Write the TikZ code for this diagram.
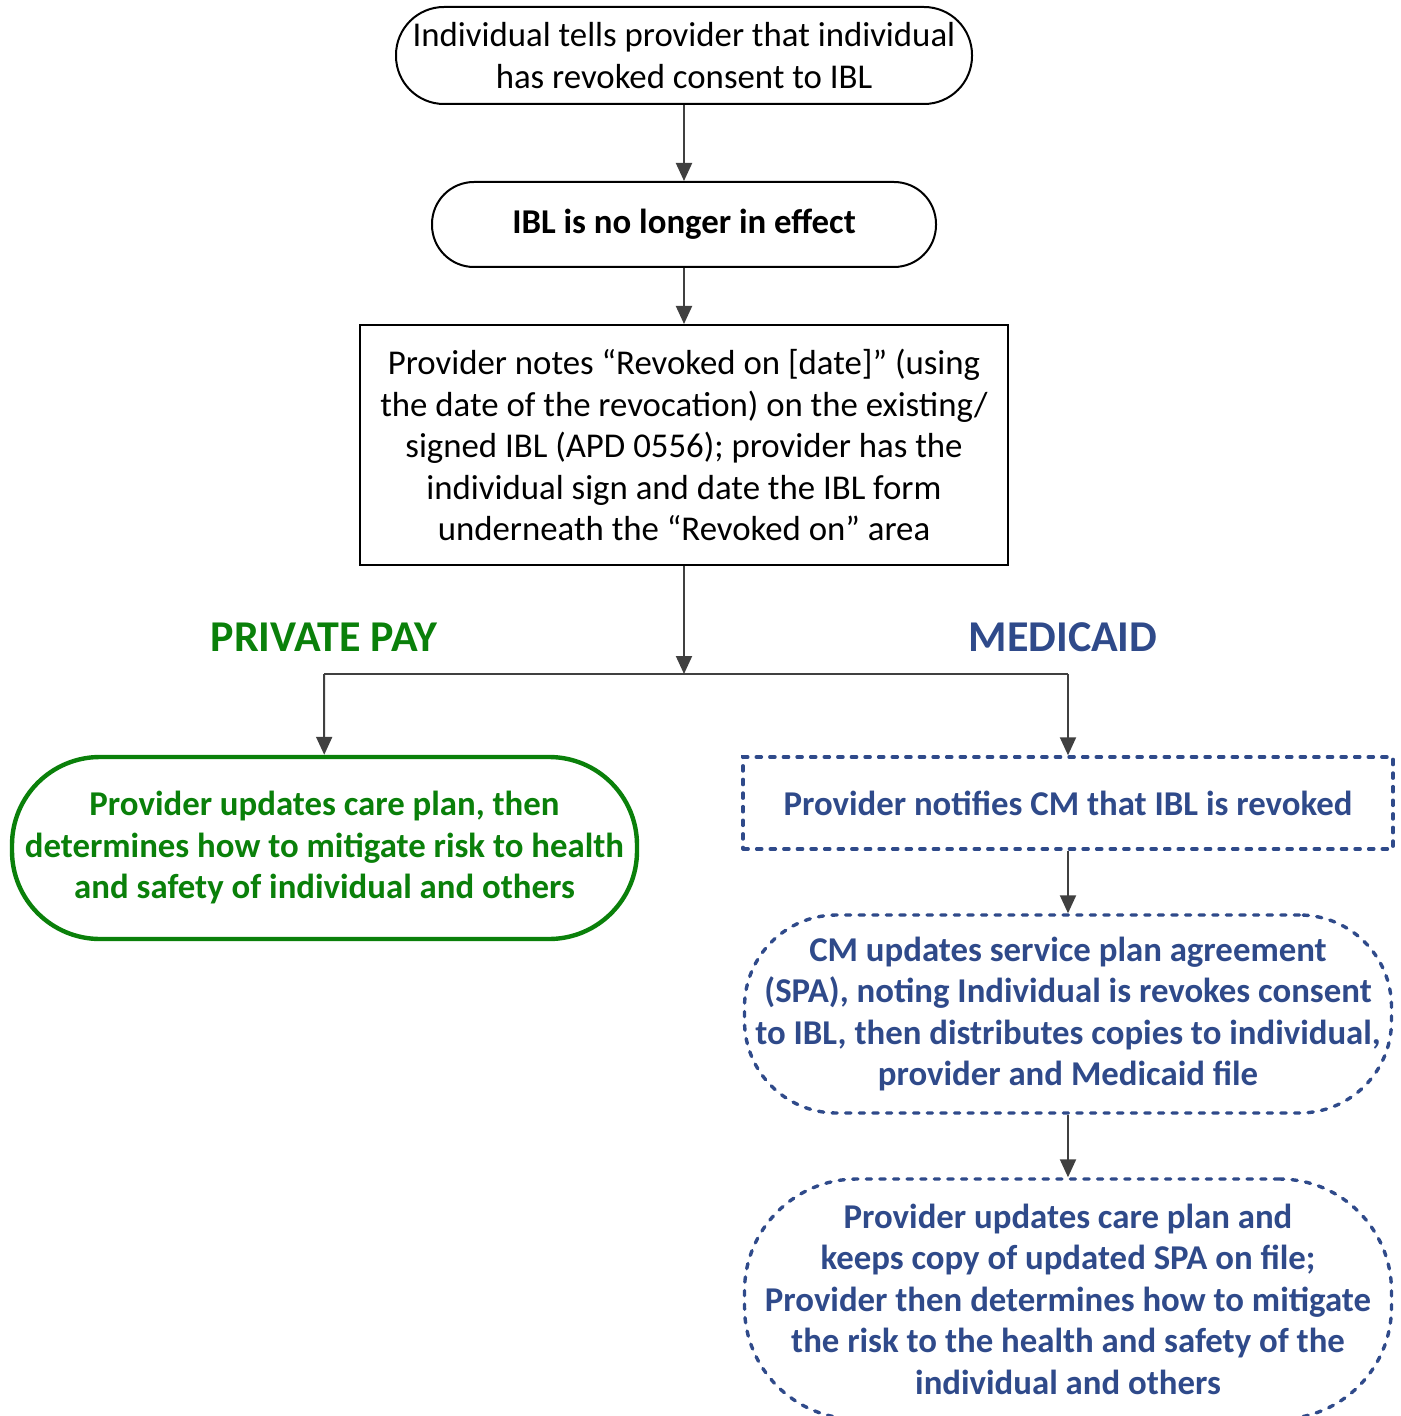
\documentclass[tikz,border=0pt]{standalone}
\usepackage{fontspec}
\setmainfont{Carlito}
\usetikzlibrary{arrows.meta}
\definecolor{mblue}{HTML}{2F4A8A}
\definecolor{mgreen}{HTML}{0A800A}
\definecolor{agray}{HTML}{404040}
\begin{document}
\begin{tikzpicture}[x=0.5pt,y=-0.5pt,
  txt/.style={font=\fontsize{17.4}{20.75}\selectfont, align=center, inner sep=0pt},
  blk/.style={txt, draw=black, line width=1pt},
  bluebox/.style={txt, font=\fontsize{17.4}{20.75}\selectfont\bfseries, text=mblue, draw=mblue, line width=1.7pt, line cap=round, dash pattern=on 2.6pt off 4.2pt},
  conn/.style={draw=agray, line width=1pt, -{Triangle[length=9pt,width=8pt]}},
  lbl/.style={font=\fontsize{22}{26}\selectfont\bfseries, inner sep=0pt}]
\useasboundingbox (0,0) rectangle (1400,1416);
\node[blk, rounded corners=24pt, minimum width=288pt, minimum height=48.5pt] (n1) at (684,55.5)
  {Individual tells provider that individual\\has revoked consent to IBL};
\node[blk, font=\fontsize{17.4}{20.75}\selectfont\bfseries, rounded corners=21pt, minimum width=252pt, minimum height=42.5pt] (n2) at (684,224.5)
  {IBL is no longer in effect};
\node[blk, minimum width=324pt, minimum height=120pt] (n3) at (684,445)
  {Provider notes “Revoked on [date]” (using\\the date of the revocation) on the existing/\\signed IBL (APD 0556); provider has the\\individual sign and date the IBL form\\underneath the “Revoked on” area};
\node[lbl, text=mgreen] (pp) at (324,637) {PRIVATE PAY};
\node[lbl, text=mblue] (md) at (1063,637) {MEDICAID};
\coordinate (j) at (684,674);
\coordinate (jl) at (324,674);
\coordinate (jr) at (1068,674);
\node[txt, font=\fontsize{17.4}{20.75}\selectfont\bfseries, text=mgreen, draw=mgreen, line width=2.2pt, rounded corners=44pt, minimum width=312.5pt, minimum height=91pt] (g) at (324.5,848)
  {Provider updates care plan, then\\determines how to mitigate risk to health\\and safety of individual and others};
\node[bluebox, minimum width=325pt, minimum height=46pt] (b1) at (1068,803)
  {Provider notifies CM that IBL is revoked};
\node[bluebox, rounded corners=46pt, minimum width=323.5pt, minimum height=99pt] (b2) at (1068,1014)
  {CM updates service plan agreement\\(SPA), noting Individual is revokes consent\\to IBL, then distributes copies to individual,\\provider and Medicaid file};
\node[bluebox, rounded corners=56pt, minimum width=323.5pt, minimum height=120pt] (b3) at (1068,1299)
  {Provider updates care plan and\\keeps copy of updated SPA on file;\\Provider then determines how to mitigate\\the risk to the health and safety of the\\individual and others};
\draw[conn] (n1) -- (n2);
\draw[conn] (n2) -- (n3);
\draw[conn] (n3) -- (j);
\draw[draw=agray, line width=1pt] (jl) -- (jr);
\draw[conn] (jl) -- (g);
\draw[conn] (jr) -- (b1);
\draw[conn] (b1) -- (b2);
\draw[conn] (b2) -- (b3);
\end{tikzpicture}
\end{document}
